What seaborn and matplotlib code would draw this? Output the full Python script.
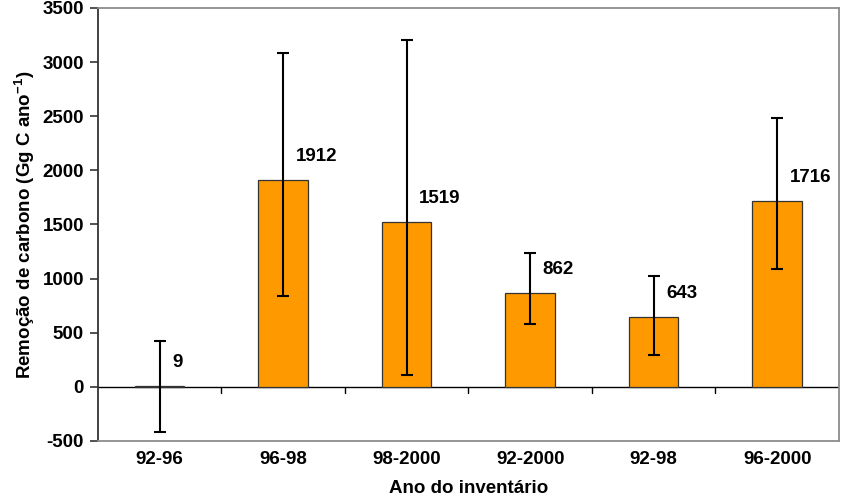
import numpy as np
import pandas as pd
import matplotlib
matplotlib.use("Agg")
import matplotlib.pyplot as plt
import seaborn as sns

# Data
periods = ['92-96', '96-98', '98-2000', '92-2000', '92-98', '96-2000']
removal = [9, 1912, 1519, 862, 643, 1716]
err_low = [-421, 840, 105, 580, 290, 1084]     # lower end of error bar
err_high = [426, 3080, 3208, 1234, 1022, 2481]  # upper end of error bar

df = pd.DataFrame({'periodo': periods, 'remocao': removal})

sns.set_style('white')
plt.rcParams['font.family'] = ['Liberation Sans', 'DejaVu Sans']
plt.rcParams['font.weight'] = 'bold'
plt.rcParams['mathtext.fontset'] = 'custom'
plt.rcParams['mathtext.rm'] = 'Liberation Sans:bold'
plt.rcParams['mathtext.default'] = 'rm'
plt.rcParams['axes.unicode_minus'] = False
plt.rcParams['text.color'] = 'black'
plt.rcParams['axes.labelcolor'] = 'black'
plt.rcParams['xtick.color'] = 'black'
plt.rcParams['ytick.color'] = 'black'

fs = 13.5

fig = plt.figure(figsize=(8.44, 4.97), dpi=100)
ax = fig.add_axes([0.116, 0.113, 0.878, 0.871])

sns.barplot(data=df, x='periodo', y='remocao', color='#FF9900', width=0.4,
            edgecolor='#333333', linewidth=0.9, saturation=1, ax=ax, zorder=2)

x = np.arange(len(periods))
vals = np.array(removal)
yerr = np.vstack([vals - np.array(err_low), np.array(err_high) - vals])
ax.errorbar(x, vals, yerr=yerr, fmt='none', ecolor='black', elinewidth=1.5,
            capsize=4, capthick=1.5, zorder=3)

# value labels
for i, v in enumerate(removal):
    ax.annotate(str(v), xy=(i, v), xytext=(9, 17), textcoords='offset points',
                ha='left', va='center', fontsize=fs, fontweight='bold',
                color='black')

# zero line with category-boundary ticks
ax.axhline(0, color='black', lw=1, zorder=1)
for b in np.arange(len(periods) - 1) + 0.5:
    ax.plot([b, b], [0, -55], color='black', lw=1, zorder=1)

ax.set_xlim(-0.5, len(periods) - 0.5)
ax.set_ylim(-500, 3500)
ax.set_yticks(np.arange(-500, 3501, 500))
ax.tick_params(axis='y', direction='out', length=6, width=1.2, color='#333333',
               labelcolor='black', labelsize=fs, pad=4, left=True)
ax.tick_params(axis='x', length=0, labelsize=fs, labelcolor='black', pad=7)
for lab in ax.get_xticklabels() + ax.get_yticklabels():
    lab.set_fontweight('bold')

for side in ['top', 'right', 'bottom']:
    ax.spines[side].set_color('#8c8c8c')
    ax.spines[side].set_linewidth(1.3)
ax.spines['left'].set_color('#333333')
ax.spines['left'].set_linewidth(1.3)

ax.set_xlabel('Ano do inventário', fontsize=fs, fontweight='bold', labelpad=9,
              color='black')
ax.set_ylabel(r'Remoção de carbono (Gg C ano$^{-1}$)', fontsize=fs,
              fontweight='bold', labelpad=4, color='black')

fig.savefig('out.png', dpi=100)
